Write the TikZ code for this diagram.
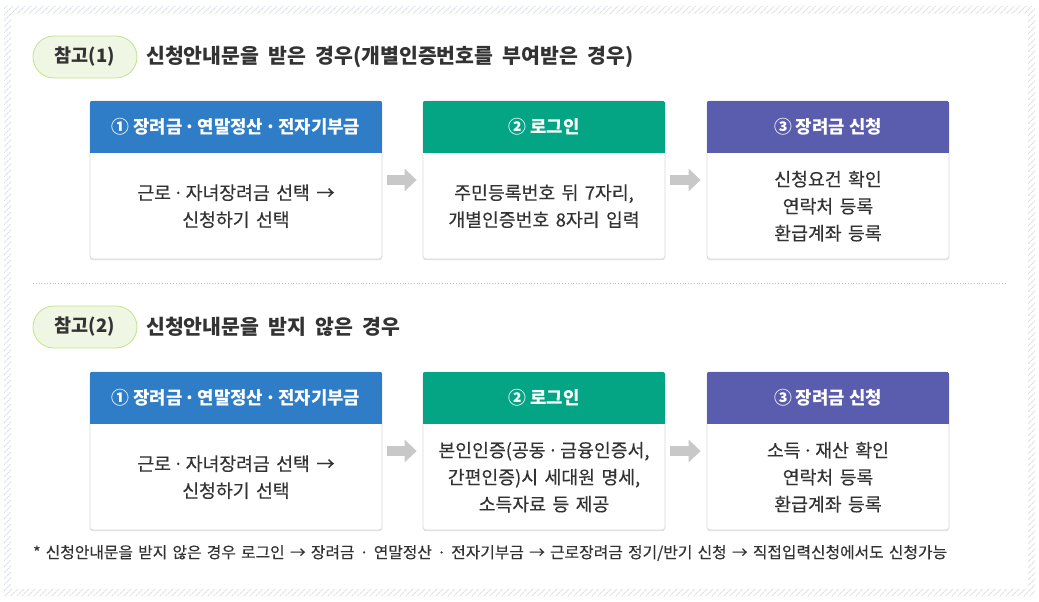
\documentclass[tikz,border=0pt]{standalone}
\usepackage{fontspec}
\setmainfont{Noto Sans CJK KR}
\newfontfamily\medfont{Noto Sans CJK KR}[FakeBold=0.3]
\usetikzlibrary{patterns.meta,arrows.meta,calc,shadows}
\definecolor{hatch}{HTML}{DCE0E6}
\definecolor{pillfill}{HTML}{EFF6E4}
\definecolor{pillline}{HTML}{C2E28C}
\definecolor{txt}{HTML}{333333}
\definecolor{cblue}{HTML}{2E7DC6}
\definecolor{cgreen}{HTML}{03A585}
\definecolor{cpurple}{HTML}{5A5CAE}
\definecolor{boxline}{HTML}{DADADA}
\definecolor{arrowgray}{HTML}{C8C8C8}
\definecolor{sepline}{HTML}{BBBBBB}
\newcommand{\md}{\hspace{0.12em}·\hspace{0.12em}}
\newcommand{\fhead}{\fontsize{20.5}{24}\selectfont\bfseries\spaceskip 0.45em\relax}
\newcommand{\fbody}{\medfont\fontsize{18.3}{27}\selectfont\spaceskip 0.35em\relax}
\newcommand{\ffoot}{\medfont\fontsize{15.8}{18}\selectfont\spaceskip 0.33em\relax}
\tikzset{
  pill/.style={draw=pillline, fill=pillfill, line width=0.8pt, rounded corners=21pt,
    minimum width=104pt, minimum height=42pt, inner sep=0pt,
    text=txt, font=\fontsize{18.5}{22}\selectfont\bfseries},
  headline/.style={anchor=west, inner sep=0pt, text=txt, font=\fhead},
  bodybox/.style={draw=boxline, fill=white, line width=0.8pt, rounded corners=3pt,
    minimum height=158pt, inner sep=0pt,
    drop shadow={shadow xshift=0pt, shadow yshift=-1.2pt, opacity=0.12, fill=black}},
  hdrarea/.style={anchor=north, minimum height=52pt, inner sep=0pt},
  hdrtext/.style={text=white, inner sep=0pt, font=\fontsize{17.8}{20}\selectfont\bfseries},
  bodytext/.style={align=center, text=txt, inner sep=0pt, font=\fbody},
  garrow/.style={draw=arrowgray, line width=10pt, shorten <=5pt, shorten >=6pt,
    -{Triangle[width=22pt,length=12pt]}},
  foot/.style={anchor=west, inner sep=0pt, text=txt, font=\ffoot},
}
\newcommand{\mkhdr}[4]{% box name, header name, color, width
  \node[hdrarea, minimum width=#4] (#2) at (#1.north) {};
  \begin{scope}
    \clip[rounded corners=3pt] (#1.north west) rectangle (#1.south east);
    \fill[#3] (#2.north west) rectangle (#2.south east);
  \end{scope}
}
\begin{document}
\begin{tikzpicture}[x=1pt,y=-1pt]
\useasboundingbox (0,0) rectangle (1039,602);
% hatched frame
\fill[pattern={Lines[angle=45,distance=4pt,line width=1.1pt]}, pattern color=hatch, even odd rule]
  (4,6) rectangle (1035,596) (11,14) rectangle (1028,589);

% ---------- section 1 ----------
\node[pill] (p1) at (85,57) {참고(1)};
\node[headline] (h1) at (146,57) {신청안내문을 받은 경우(개별인증번호를 부여받은 경우)};

\node[bodybox, minimum width=292pt] (a1) at (236,180) {};
\mkhdr{a1}{a1h}{cblue}{292pt}
\node[hdrtext] (a1t) at (a1h) {① 장려금\md 연말정산\md 전자기부금};
\node[bodytext] (a1b) at ($(a1h.south)!0.5!(a1.south)$) {근로\md 자녀장려금 선택 →\\신청하기 선택};

\node[bodybox, minimum width=242pt] (a2) at (544,180) {};
\mkhdr{a2}{a2h}{cgreen}{242pt}
\node[hdrtext] (a2t) at (a2h) {② 로그인};
\node[bodytext] (a2b) at ($(a2h.south)!0.5!(a2.south)$) {주민등록번호 뒤 7자리,\\개별인증번호 8자리 입력};

\node[bodybox, minimum width=242pt] (a3) at (828,180) {};
\mkhdr{a3}{a3h}{cpurple}{242pt}
\node[hdrtext] (a3t) at (a3h) {③ 장려금 신청};
\node[bodytext] (a3b) at ($(a3h.south)!0.5!(a3.south)$) {신청요건 확인\\연락처 등록\\환급계좌 등록};

\draw[garrow] (a1) -- (a2);
\draw[garrow] (a2) -- (a3);

% separator
\draw[sepline, line width=0.8pt, dotted] (33,283) -- (1005,283);

% ---------- section 2 ----------
\node[pill] (p2) at (85,327) {참고(2)};
\node[headline] (h2) at (146,327) {신청안내문을 받지 않은 경우};

\node[bodybox, minimum width=292pt] (c1) at (236,451) {};
\mkhdr{c1}{c1h}{cblue}{292pt}
\node[hdrtext] (c1t) at (c1h) {① 장려금\md 연말정산\md 전자기부금};
\node[bodytext] (c1b) at ($(c1h.south)!0.5!(c1.south)$) {근로\md 자녀장려금 선택 →\\신청하기 선택};

\node[bodybox, minimum width=242pt] (c2) at (544,451) {};
\mkhdr{c2}{c2h}{cgreen}{242pt}
\node[hdrtext] (c2t) at (c2h) {② 로그인};
\node[bodytext] (c2b) at ($(c2h.south)!0.5!(c2.south)$) {본인인증(공동\md 금융인증서,\\간편인증)시 세대원 명세,\\소득자료 등 제공};

\node[bodybox, minimum width=242pt] (c3) at (828,451) {};
\mkhdr{c3}{c3h}{cpurple}{242pt}
\node[hdrtext] (c3t) at (c3h) {③ 장려금 신청};
\node[bodytext] (c3b) at ($(c3h.south)!0.5!(c3.south)$) {소득\md 재산 확인\\연락처 등록\\환급계좌 등록};

\draw[garrow] (c1) -- (c2);
\draw[garrow] (c2) -- (c3);

% footnote
\node[foot] (fn) at (33,553) {* 신청안내문을 받지 않은 경우 로그인 → 장려금 · 연말정산 · 전자기부금 → 근로장려금 정기/반기 신청 → 직접입력신청에서도 신청가능};
\end{tikzpicture}
\end{document}
